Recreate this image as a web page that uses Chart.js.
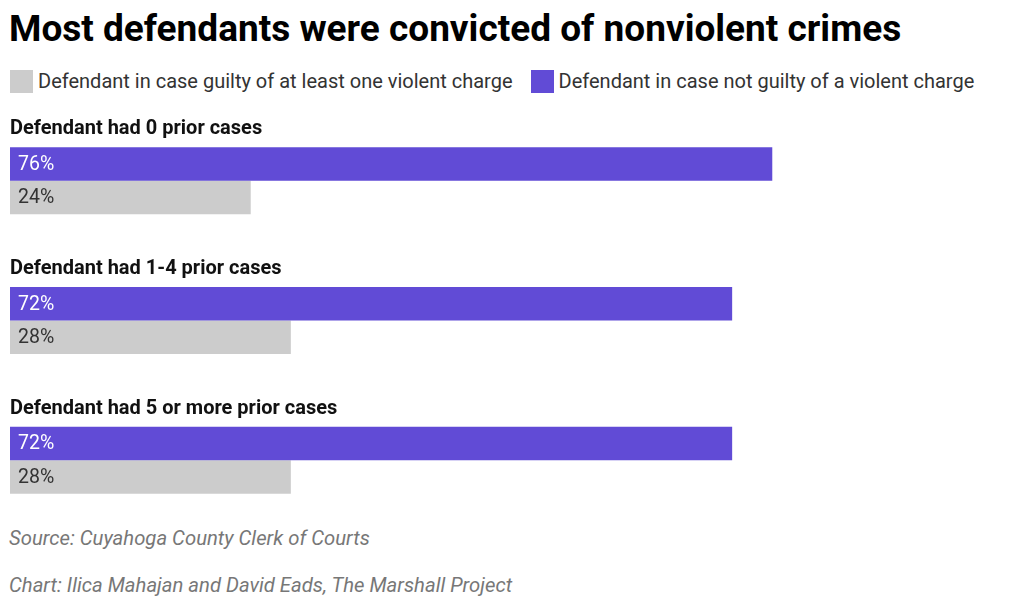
<!DOCTYPE html>
<html>
<head>
<meta charset="utf-8">
<script src="https://cdn.jsdelivr.net/npm/chart.js@4.4.1/dist/chart.umd.min.js"></script>
<style>
  html, body { margin: 0; padding: 0; background: #fff; }
  body { width: 1024px; height: 616px; position: relative; overflow: hidden; font-family: Roboto, "Noto Sans", sans-serif; }
  #title { position: absolute; left: 9px; top: 7px; font-size: 37px; font-weight: 700; color: #000; white-space: nowrap; }
  #legend { position: absolute; left: 10px; top: 69px; font-size: 20px; color: #333; white-space: nowrap; display: flex; align-items: center; }
  #legend .sw { display: inline-block; width: 23px; height: 23px; margin-right: 5px; }
  #legend .item { display: flex; align-items: center; margin-right: 18px; }
  .note { position: absolute; left: 9px; font-size: 20.3px; font-style: italic; color: #777; white-space: nowrap; }
  #wrap { position: absolute; left: 0; top: 0; width: 1024px; height: 616px; }
</style>
</head>
<body>
<div id="title">Most defendants were convicted of nonviolent crimes</div>
<div id="legend"></div>
<div class="note" style="top:526px">Source: Cuyahoga County Clerk of Courts</div>
<div class="note" style="top:573px">Chart: Ilica Mahajan and David Eads, The Marshall Project</div>
<div id="wrap"><canvas id="chart" width="1024" height="616"></canvas></div>
<script>
// Data
const groups = ['Defendant had 0 prior cases', 'Defendant had 1-4 prior cases', 'Defendant had 5 or more prior cases'];
const notViolent = [76, 72, 72];
const violent = [24, 28, 28];
const seriesNames = ['Defendant in case guilty of at least one violent charge', 'Defendant in case not guilty of a violent charge'];

const PURPLE = '#614bd6';
const GREY = '#cccccc';

// HTML legend (grey first, like the original)
const legend = document.getElementById('legend');
[[seriesNames[0], GREY], [seriesNames[1], PURPLE]].forEach(([name, color]) => {
    const item = document.createElement('span');
    item.className = 'item';
    const sw = document.createElement('span');
    sw.className = 'sw';
    sw.style.background = color;
    item.appendChild(sw);
    item.appendChild(document.createTextNode(name));
    legend.appendChild(item);
});

// group titles above each pair + value labels inside bars
const labelPlugin = {
    id: 'labels',
    afterDatasetsDraw(chart) {
        const ctx = chart.ctx;
        ctx.save();
        ctx.textBaseline = 'middle';
        ctx.textAlign = 'left';
        ctx.fillStyle = '#111';
        ctx.font = 'bold 20px Roboto';
        groups.forEach((g, i) => {
            const top = chart.getDatasetMeta(0).data[i];
            ctx.fillText(g, 10, top.y - top.height / 2 - 18);
        });
        ctx.font = '19.5px Roboto';
        chart.data.datasets.forEach((ds, di) => {
            chart.getDatasetMeta(di).data.forEach((bar, i) => {
                ctx.fillStyle = di === 0 ? '#fff' : '#333';
                ctx.fillText(ds.data[i] + '%', 18, bar.y + 1);
            });
        });
        ctx.restore();
    }
};

new Chart(document.getElementById('chart'), {
    type: 'bar',
    data: {
        labels: groups,
        datasets: [
            { label: seriesNames[1], data: notViolent, backgroundColor: PURPLE },
            { label: seriesNames[0], data: violent, backgroundColor: GREY }
        ]
    },
    options: {
        indexAxis: 'y',
        responsive: false,
        animation: false,
        categoryPercentage: 0.48,
        barPercentage: 1.0,
        layout: { padding: { left: 10, right: 11, top: 111, bottom: 86 } },
        scales: {
            x: { display: false, min: 0, max: 100 },
            y: { display: false }
        },
        plugins: {
            legend: { display: false },
            tooltip: { enabled: false }
        }
    },
    plugins: [labelPlugin]
});
</script>
</body>
</html>
